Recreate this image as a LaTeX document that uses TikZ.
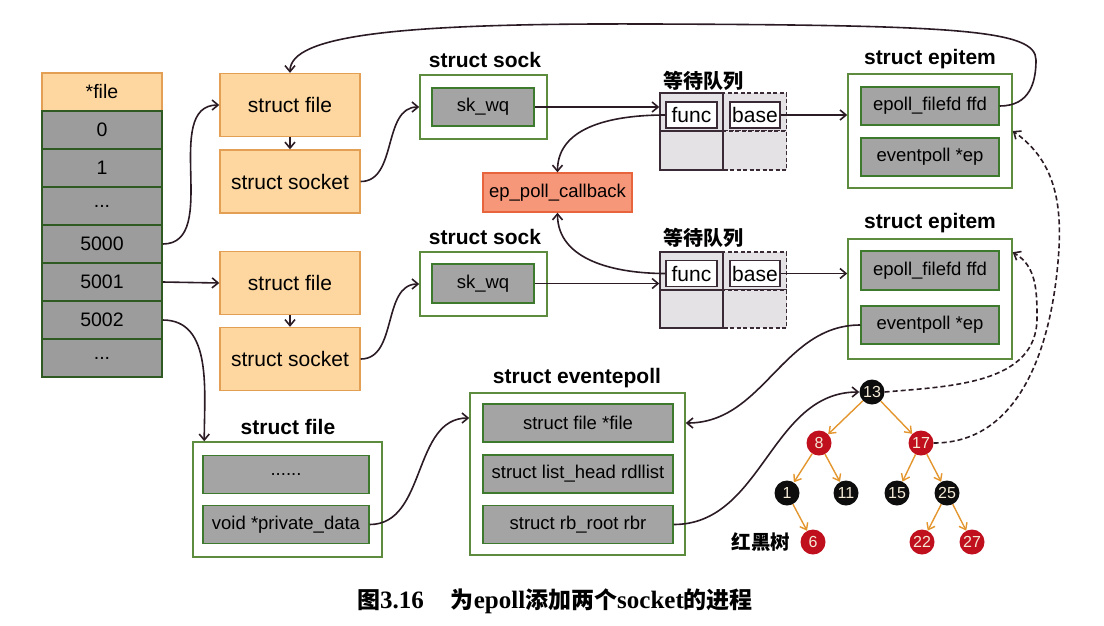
\documentclass[tikz,border=0pt]{standalone}
\usepackage{fontspec}
\setmainfont{Liberation Sans}
\newfontfamily\cjk{Noto Sans CJK SC}
\newfontfamily\capserif{Liberation Serif}
\usetikzlibrary{arrows.meta}
\definecolor{ln}{HTML}{2B1B24}
\definecolor{ofill}{HTML}{FDD6A0}
\definecolor{oborder}{HTML}{E3A055}
\definecolor{tgray}{HTML}{9C9C9C}
\definecolor{tgreen}{HTML}{2F5A22}
\definecolor{igray}{HTML}{A4A4A4}
\definecolor{igreen}{HTML}{3E7A2E}
\definecolor{ogreen}{HTML}{5E8C3F}
\definecolor{wqfill}{HTML}{E4E2E4}
\definecolor{wqline}{HTML}{3A2A35}
\definecolor{cbfill}{HTML}{F7977A}
\definecolor{cbline}{HTML}{E8643C}
\definecolor{rbred}{HTML}{C0101E}
\definecolor{rbblack}{HTML}{0D0D0D}
\definecolor{torange}{HTML}{E3962E}
\definecolor{ntext}{HTML}{F4EAD6}
\begin{document}
\begin{tikzpicture}[x=1pt,y=-1pt,
  cell/.style={draw=tgreen, fill=tgray, line width=1.5pt, minimum width=120pt, minimum height=38pt, inner sep=0pt, font=\fontsize{19.5}{22}\selectfont},
  ocell/.style={cell, fill=ofill, draw=oborder},
  obox/.style={draw=oborder, fill=ofill, line width=1.4pt, minimum width=140pt, minimum height=63pt, inner sep=0pt, font=\fontsize{21}{24}\selectfont},
  outer/.style={draw=ogreen, fill=white, line width=1.5pt, inner sep=0pt},
  inner/.style={draw=igreen, fill=igray, line width=1.5pt, inner sep=0pt, font=\fontsize{18.5}{22}\selectfont},
  head/.style={font=\bfseries\fontsize{21}{24}\selectfont, inner sep=0pt},
  cjkhead/.style={font=\cjk\bfseries\fontsize{20}{24}\selectfont, inner sep=0pt},
  wqcell/.style={draw=wqline, fill=wqfill, line width=1.4pt, inner sep=0pt, minimum width=63pt},
  wqdash/.style={wqcell, dash pattern=on 4pt off 2.5pt},
  fbox/.style={draw=wqline, fill=white, line width=1.4pt, inner sep=0pt, minimum width=51pt, minimum height=26pt, font=\fontsize{21}{24}\selectfont},
  cbbox/.style={draw=cbline, fill=cbfill, line width=1.4pt, inner sep=0pt, minimum width=149pt, minimum height=39pt, font=\fontsize{18.5}{22}\selectfont},
  arr/.style={draw=ln, line width=1.6pt, -{Straight Barb[length=6pt,width=10pt]}},
  darr/.style={arr, dash pattern=on 5pt off 3pt},
  rbn/.style={circle, fill=rbred, minimum size=25pt, inner sep=0pt, text=ntext, font=\fontsize{16}{16}\selectfont},
  bkn/.style={rbn, fill=rbblack},
  tedge/.style={draw=torange, line width=1.4pt, -{Straight Barb[length=6pt,width=9pt]}}
]
\useasboundingbox (0,0) rectangle (1104,625);

% file table
\node[ocell] (rf) at (102,92) {*file};
\node[cell] (r0) at (102,130) {0};
\node[cell] (r1) at (102,168) {1};
\node[cell] (rd1) at (102,206) {...};
\node[cell] (r5000) at (102,244) {5000};
\node[cell] (r5001) at (102,282) {5001};
\node[cell] (r5002) at (102,320) {5002};
\node[cell] (rd2) at (102,358) {...};

% orange boxes
\node[obox] (f1) at (290,105) {struct file};
\node[obox] (s1) at (290,181.5) {struct socket};
\node[obox] (f2) at (290,283) {struct file};
\node[obox] (s2) at (290,359) {struct socket};

% struct sock
\node[head] (hsock1) at (485,60) {struct sock};
\node[outer, minimum width=127pt, minimum height=64pt] (sock1) at (483.5,107) {};
\node[inner, minimum width=102pt, minimum height=38pt] (sk1) at (483,107) {sk\_wq};
\node[head] (hsock2) at (485,237) {struct sock};
\node[outer, minimum width=127pt, minimum height=64pt] (sock2) at (483.5,284) {};
\node[inner, minimum width=102pt, minimum height=39pt] (sk2) at (483,283.5) {sk\_wq};

% wait queue 1
\node[cjkhead] (hwq1) at (703,81) {等待队列};
\node[wqcell, minimum height=38pt] (wq1a) at (691.5,112) {};
\node[wqcell, minimum height=39pt] (wq1b) at (691.5,150.5) {};
\node[wqdash, minimum height=38pt] (wq1c) at (755,112) {};
\node[wqdash, minimum height=39pt] (wq1d) at (755,150.5) {};
\node[fbox] (func1) at (691.5,115) {func};
\node[fbox, minimum width=50pt] (base1) at (755,115) {base};

% wait queue 2
\node[cjkhead] (hwq2) at (703,238) {等待队列};
\node[wqcell, minimum height=38pt] (wq2a) at (691.5,271) {};
\node[wqcell, minimum height=38pt] (wq2b) at (691.5,309) {};
\node[wqdash, minimum height=38pt] (wq2c) at (755,271) {};
\node[wqdash, minimum height=38pt] (wq2d) at (755,309) {};
\node[fbox] (func2) at (691.5,273.5) {func};
\node[fbox, minimum width=50pt] (base2) at (755,273.5) {base};

% callback
\node[cbbox] (cb) at (557.5,192.5) {ep\_poll\_callback};

% epitem 1
\node[head] (hep1) at (930,59) {struct epitem};
\node[outer, minimum width=164pt, minimum height=114pt] (ep1) at (930,131) {};
\node[inner, minimum width=138pt, minimum height=38pt] (ffd1) at (930,106) {epoll\_filefd ffd};
\node[inner, minimum width=138pt, minimum height=38pt] (epp1) at (930,157) {eventpoll *ep};
% epitem 2
\node[head] (hep2) at (930,223) {struct epitem};
\node[outer, minimum width=164pt, minimum height=120pt] (ep2) at (930,299) {};
\node[inner, minimum width=138pt, minimum height=39pt] (ffd2) at (930,270.5) {epoll\_filefd ffd};
\node[inner, minimum width=138pt, minimum height=38pt] (epp2) at (930,325) {eventpoll *ep};

% struct eventepoll
\node[head] (hee) at (577,378) {struct eventepoll};
\node[outer, minimum width=215pt, minimum height=162pt] (ee) at (577.5,474) {};
\node[inner, minimum width=190pt, minimum height=38pt] (eefile) at (578,423) {struct file *file};
\node[inner, minimum width=190pt, minimum height=38pt] (eelist) at (578,474) {struct list\_head rdllist};
\node[inner, minimum width=190pt, minimum height=38pt] (eerbr) at (578,524.5) {struct rb\_root rbr};

% bottom struct file
\node[head] (hsf) at (288,427) {struct file};
\node[outer, minimum width=189pt, minimum height=115pt] (sf) at (287.5,499.5) {};
\node[inner, minimum width=166pt, minimum height=38pt] (sfd) at (286,474.5) {......};
\node[inner, minimum width=166pt, minimum height=38pt] (sfp) at (286,524.5) {void *private\_data};

% tree
\node[bkn] (n13) at (872,392) {13};
\node[rbn] (n8) at (819,443) {8};
\node[rbn] (n17) at (921,443) {17};
\node[bkn] (n1) at (787,493) {1};
\node[bkn] (n11) at (846,493) {11};
\node[bkn] (n15) at (897,493) {15};
\node[bkn] (n25) at (947,493) {25};
\node[rbn] (n6) at (813,542) {6};
\node[rbn] (n22) at (922,542) {22};
\node[rbn] (n27) at (972,542) {27};
\node[font=\cjk\bfseries\fontsize{19.5}{22}\selectfont, inner sep=0pt] (rbt) at (761,542) {红黑树};
\draw[tedge] (n13) -- (n8);
\draw[tedge] (n13) -- (n17);
\draw[tedge] (n8) -- (n1);
\draw[tedge] (n8) -- (n11);
\draw[tedge] (n17) -- (n15);
\draw[tedge] (n17) -- (n25);
\draw[tedge] (n1) -- (n6);
\draw[tedge] (n25) -- (n22);
\draw[tedge] (n25) -- (n27);

% connectors
\draw[arr] (r5000.east) to[out=0,in=180] (f1.west);
\draw[arr] (r5001.east) -- (f2.west);
\draw[arr] (r5002.east) to[out=0,in=90] ([xshift=12pt]sf.north west);
\draw[arr] (f1.south) -- (s1.north);
\draw[arr] (f2.south) -- (s2.north);
\draw[arr] (s1.east) to[out=0,in=180] (sock1.west);
\draw[arr] (s2.east) to[out=0,in=180] (sock2.west);
\draw[arr] (sk1.east) -- (sk1.east -| wq1a.west);
\draw[arr] (sk2.east) -- (sk2.east -| wq2a.west);
\draw[arr] (func1.west) to[out=180,in=90] (cb.north);
\draw[arr] (func2.west) to[out=180,in=-90] (cb.south);
\draw[arr] (base1.east) -- (base1.east -| ep1.west);
\draw[arr] (base2.east) -- (base2.east -| ep2.west);
\coordinate (tr1) at (1036,60);
\coordinate (tr2) at (650,24);
\draw[arr] (ffd1.east) .. controls (1030,106) and (1036,82) .. (tr1)
  .. controls (1036,30) and (960,25) .. (tr2)
  .. controls (400,23) and (290,35) .. (f1.north);
\draw[arr] (epp2.west) to[out=180,in=0] (ee.east |- eefile.center);
\draw[arr] (sfp.east) to[out=0,in=180] ([yshift=5pt]ee.west |- eefile.center);
\draw[arr] (eerbr.east) to[out=0,in=180] (n13.west);
\coordinate (d1) at (1037,318);
\coordinate (d2) at (1058,262);
\draw[darr] (n13.east) to[out=5,in=-90] (d1) to[out=90,in=-30] ([yshift=-14pt]ep2.north east);
\draw[darr] (n17.east) to[out=0,in=-95] (d2) to[out=85,in=-35] (ep1.east);

% caption
\node[inner sep=0pt] (cap) at (555,601) {{\cjk\bfseries\fontsize{23}{26}\selectfont 图}{\capserif\bfseries\fontsize{25}{26}\selectfont 3.16}\hspace{27pt}{\cjk\bfseries\fontsize{23}{26}\selectfont 为}{\capserif\bfseries\fontsize{25}{26}\selectfont epoll}{\cjk\bfseries\fontsize{23}{26}\selectfont 添加两个}{\capserif\bfseries\fontsize{25}{26}\selectfont socket}{\cjk\bfseries\fontsize{23}{26}\selectfont 的进程}};
\end{tikzpicture}
\end{document}
